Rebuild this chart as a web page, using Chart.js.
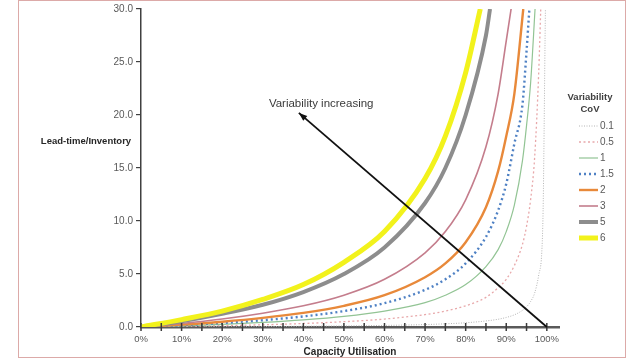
<!DOCTYPE html>
<html>
<head>
<meta charset="utf-8">
<script src="https://cdn.jsdelivr.net/npm/chart.js@4.4.1/dist/chart.umd.min.js"></script>
<style>
  html, body { margin: 0; padding: 0; background: #fff; }
  .wrap { position: relative; width: 640px; height: 360px; }
  .frame { position: absolute; left: 18px; top: 0; width: 608px; height: 358px; border: 1px solid #dcaaa8; box-sizing: border-box; pointer-events: none; }
</style>
</head>
<body>
<div class="wrap">
  <canvas id="leadChart" width="640" height="360"></canvas>
  <div class="frame"></div>
</div>
<script>
// Legend labels (CoV) and the utilisation points the values were read at
const covLabels = ['0.1', '0.5', '1', '1.5', '2', '3', '5', '6'];
const utilPoints = [0, 10, 20, 30, 40, 50, 60, 70, 75, 80, 85, 88, 90, 92, 94, 95, 96, 97, 98, 99];

// Lead-time values, one array per CoV curve
const cov01 = [0, 0.01, 0.03, 0.04, 0.07, 0.1, 0.15, 0.23, 0.3, 0.4, 0.57, 0.73, 0.9, 1.15, 1.57, 1.9, 2.4, 3.2, 4.9, 9.5];
const cov05 = [0, 0.06, 0.13, 0.21, 0.33, 0.5, 0.75, 1.17, 1.5, 2.0, 2.8, 3.7, 4.5, 5.8, 7.8, 9.5, 12.0, 16.0, 24.0];
const cov1 = [0, 0.11, 0.25, 0.43, 0.67, 1.0, 1.5, 2.3, 3.0, 4.0, 5.7, 7.3, 9.0, 11.5, 15.7, 19.0, 23.0];
const cov15 = [0, 0.17, 0.38, 0.64, 1.0, 1.5, 2.25, 3.5, 4.5, 6.0, 8.5, 11.0, 13.5, 17.3, 21.0, 26.0];
const cov2 = [0, 0.22, 0.5, 0.86, 1.33, 2.0, 3.0, 4.7, 6.0, 8.0, 11.3, 14.7, 18.0, 22.0];
const cov3 = [0, 0.33, 0.75, 1.3, 2.0, 3.0, 4.5, 7.0, 9.0, 12.0, 17.0, 22.0, 27.0];
const cov5 = [0, 0.55, 1.25, 2.1, 3.3, 5.0, 7.5, 11.7, 15.0, 20.0, 27.5];
const cov6 = [0, 0.7, 1.5, 2.6, 4.0, 6.1, 9.0, 14.0, 18.0, 24.0];
// utilisation where each curve leaves the top of the plot (30.0)
const topUtil = [99.65, 98.5, 97.1, 95.7, 94.2, 91.2, 86.0, 83.6];

// annotation arrow (data units)
const arrowFrom = [100, 0];
const arrowTo = [38.9, 20.2];
const noteAt = [44.4, 21.1];

const curveValues = [cov01, cov05, cov1, cov15, cov2, cov3, cov5, cov6];
const curveStyles = [
    { color: '#b4b4b4', width: 1, dash: [1, 1.5] },
    { color: '#e8a8aa', width: 1.3, dash: [2, 2.5] },
    { color: '#92c494', width: 1.2, dash: [] },
    { color: '#4f81c4', width: 2.4, dash: [2, 3] },
    { color: '#e8893a', width: 2.4, dash: [] },
    { color: '#c47d8c', width: 1.6, dash: [] },
    { color: '#8d8d8d', width: 4, dash: [] },
    { color: '#f2f21c', width: 5, dash: [] }
];

const fontFam = '"Liberation Sans", Arial, sans-serif';

function toPoints(vals, endUtil) {
    const pts = vals.map((v, i) => ({ x: utilPoints[i], y: v }));
    pts.push({ x: endUtil, y: 30 });
    return pts;
}

const datasets = covLabels.map((lbl, i) => ({
    label: lbl,
    data: toPoints(curveValues[i], topUtil[i]),
    borderColor: curveStyles[i].color,
    borderWidth: curveStyles[i].width,
    borderDash: curveStyles[i].dash,
    pointRadius: 0,
    fill: false,
    cubicInterpolationMode: 'monotone',
    order: covLabels.length - i
}));

// x axis marks crossing the line, y title, arrow + note
const extrasPlugin = {
    id: 'extras',
    afterDatasetsDraw(chart) {
        const { ctx, chartArea, scales } = chart;
        const xs = scales.x, ys = scales.y;
        ctx.save();

        // crossing tick marks on the x axis
        ctx.strokeStyle = '#3a3a3a';
        ctx.lineWidth = 1.5;
        xs.ticks.forEach(t => {
            const px = xs.getPixelForValue(t.value);
            ctx.beginPath();
            ctx.moveTo(px, chartArea.bottom - 4);
            ctx.lineTo(px, chartArea.bottom + 4);
            ctx.stroke();
        });

        // arrow
        const x1 = xs.getPixelForValue(arrowFrom[0]), y1 = ys.getPixelForValue(arrowFrom[1]);
        const x2 = xs.getPixelForValue(arrowTo[0]), y2 = ys.getPixelForValue(arrowTo[1]);
        ctx.strokeStyle = '#111';
        ctx.fillStyle = '#111';
        ctx.lineWidth = 1.8;
        ctx.beginPath();
        ctx.moveTo(x1, y1);
        ctx.lineTo(x2, y2);
        ctx.stroke();
        const ang = Math.atan2(y2 - y1, x2 - x1);
        ctx.beginPath();
        ctx.moveTo(x2, y2);
        ctx.lineTo(x2 - 9 * Math.cos(ang - 0.35), y2 - 9 * Math.sin(ang - 0.35));
        ctx.lineTo(x2 - 9 * Math.cos(ang + 0.35), y2 - 9 * Math.sin(ang + 0.35));
        ctx.closePath();
        ctx.fill();

        // note text
        ctx.fillStyle = '#3a3a3a';
        ctx.font = '11.5px ' + fontFam;
        ctx.textAlign = 'center';
        ctx.textBaseline = 'middle';
        ctx.fillText('Variability increasing', xs.getPixelForValue(noteAt[0]), ys.getPixelForValue(noteAt[1]));

        // horizontal y-axis title
        ctx.fillStyle = '#262626';
        ctx.font = 'bold 9.5px ' + fontFam;
        ctx.fillText('Lead-time/Inventory', chartArea.left - 55, ys.getPixelForValue(17.5));
        ctx.restore();
    }
};

// legend on the right, built from the datasets
const covLegend = {
    id: 'covLegend',
    afterDraw(chart) {
        const { ctx, chartArea } = chart;
        const left = chartArea.right + 20;
        ctx.save();
        ctx.textBaseline = 'middle';
        ctx.textAlign = 'center';
        ctx.fillStyle = '#404040';
        ctx.font = 'bold 9.5px ' + fontFam;
        ctx.fillText('Variability', left + 11, chartArea.top + 88);
        ctx.fillText('CoV', left + 11, chartArea.top + 100);
        ctx.textAlign = 'left';
        ctx.font = '10px ' + fontFam;
        chart.data.datasets.forEach((ds, i) => {
            const y = chartArea.top + 117 + i * 16;
            ctx.strokeStyle = ds.borderColor;
            ctx.lineWidth = ds.borderWidth;
            ctx.setLineDash(ds.borderDash);
            ctx.beginPath();
            ctx.moveTo(left, y);
            ctx.lineTo(left + 19, y);
            ctx.stroke();
            ctx.setLineDash([]);
            ctx.fillStyle = '#595959';
            ctx.fillText(ds.label, left + 21, y);
        });
        ctx.restore();
    }
};

const ctx = document.getElementById('leadChart').getContext('2d');
new Chart(ctx, {
    type: 'line',
    data: { datasets },
    options: {
        responsive: false,
        animation: false,
        layout: { padding: { left: 18, right: 81, top: 8, bottom: 2 } },
        plugins: {
            tooltip: { enabled: false },
            legend: { display: false }
        },
        scales: {
            x: {
                type: 'linear',
                min: 0,
                max: 103,
                afterFit: scale => { scale.height = 31; },
                grid: { display: false, drawTicks: false },
                border: { display: true, color: '#5a5a5a', width: 2.5 },
                afterBuildTicks: scale => { scale.ticks = scale.ticks.filter(t => t.value <= 100); },
                ticks: {
                    stepSize: 5,
                    includeBounds: false,
                    autoSkip: false,
                    maxRotation: 0,
                    padding: 7,
                    color: '#595959',
                    font: { family: fontFam, size: 9.5 },
                    callback: v => (v % 10 === 0 && v <= 100) ? v + '%' : ''
                },
                title: {
                    display: true,
                    text: 'Capacity Utilisation',
                    color: '#262626',
                    font: { family: fontFam, size: 10, weight: 'bold' },
                    padding: { top: 1, bottom: 0 }
                }
            },
            y: {
                min: 0,
                max: 30,
                afterFit: scale => { scale.width = 123; },
                grid: { drawOnChartArea: false, drawTicks: true, tickLength: 5, color: '#404040', lineWidth: 1.2 },
                border: { display: true, color: '#404040', width: 1.5 },
                ticks: {
                    stepSize: 5,
                    padding: 3,
                    color: '#595959',
                    font: { family: fontFam, size: 10 },
                    callback: v => v.toFixed(1)
                }
            }
        }
    },
    plugins: [extrasPlugin, covLegend]
});
</script>
</body>
</html>
